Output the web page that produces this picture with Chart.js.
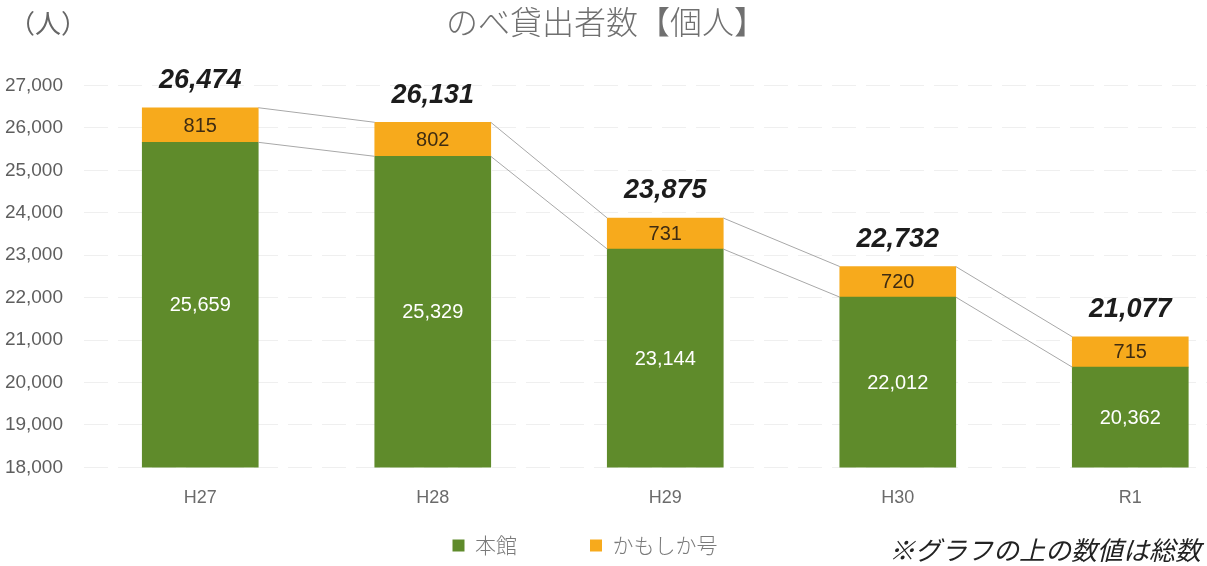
<!DOCTYPE html>
<html lang="ja">
<head>
<meta charset="utf-8">
<title>のべ貸出者数【個人】</title>
<script src="https://cdn.jsdelivr.net/npm/chart.js@4.4.1/dist/chart.umd.min.js"></script>
<style>
  html, body { margin: 0; padding: 0; background: #fff; overflow: hidden; }
  #wrap { width: 1207px; height: 566px; position: relative; }
</style>
</head>
<body>
<div id="wrap"><canvas id="grafico"></canvas></div>
<script>
// 年度
const nendo = ["H27", "H28", "H29", "H30", "R1"];
// 本館
const honkan = [25659, 25329, 23144, 22012, 20362];
// かもしか号
const kamoshika = [815, 802, 731, 720, 715];
// 総数（グラフの上の数値）
const sousu = [26474, 26131, 23875, 22732, 21077];
// 縦軸の目盛り
const yMin = 18000;
const yMax = 27000;
const yStep = 1000;

const fonteNum = '"Liberation Sans", Arial, sans-serif';
const fonteJp = '"Noto Sans CJK JP", "Noto Sans", sans-serif';
const verde = "#5f8b2b";
const laranja = "#f7aa1c";

const fmt = v => Number(v).toLocaleString("en-US");

// ラベルと区分線を描く
const rotulosPlugin = {
    id: "rotulos",
    afterDatasetsDraw(chart) {
        const ctx = chart.ctx;
        const fundo = chart.chartArea.bottom;
        const m0 = chart.getDatasetMeta(0).data;
        const m1 = chart.getDatasetMeta(1).data;

        // 区分線
        ctx.save();
        ctx.strokeStyle = "#a8a8a8";
        ctx.lineWidth = 1;
        [m0, m1].forEach(barras => {
            for (let i = 0; i < barras.length - 1; i++) {
                let a = barras[i], b = barras[i + 1];
                ctx.beginPath();
                ctx.moveTo(a.x + a.width / 2, Math.min(a.y, a.base));
                ctx.lineTo(b.x - b.width / 2, Math.min(b.y, b.base));
                ctx.stroke();
            }
        });

        ctx.textAlign = "center";
        ctx.textBaseline = "middle";
        for (let i = 0; i < m0.length; i++) {
            let g = m0[i], o = m1[i];
            let gTopo = Math.min(g.y, g.base);
            let gBase = Math.min(Math.max(g.y, g.base), fundo);
            ctx.font = "20px " + fonteNum;
            ctx.fillStyle = "#ffffff";
            ctx.fillText(fmt(honkan[i]), g.x, (gTopo + gBase) / 2 + 1);
            ctx.fillStyle = "#3f2c12";
            ctx.fillText(fmt(kamoshika[i]), o.x, (o.y + o.base) / 2 + 1);
            ctx.font = "italic bold 27px " + fonteNum;
            ctx.fillStyle = "#1c1c1c";
            ctx.fillText(fmt(sousu[i]), o.x, Math.min(o.y, o.base) - 27);
        }
        ctx.restore();
    },
    afterDraw(chart) {
        const ctx = chart.ctx;
        ctx.save();
        ctx.textBaseline = "middle";
        ctx.fillStyle = "#666666";
        ctx.font = "26px " + fonteJp;
        ctx.textAlign = "left";
        ctx.fillText("（人）", 9, 23);
        ctx.fillStyle = "#222222";
        ctx.font = "italic 26px " + fonteJp;
        ctx.textAlign = "right";
        ctx.fillText("※グラフの上の数値は総数", 1201, 550);
        ctx.restore();
    }
};

let ctx = document.getElementById("grafico").getContext("2d");
window.myChart = new Chart(ctx, {
    type: "bar",
    data: {
        datasets: [{
            label: "本館",
            data: honkan.map((v, i) => ({ x: i, y: v })),
            backgroundColor: verde,
            borderWidth: 0,
            barThickness: 116
        }, {
            label: "かもしか号",
            data: kamoshika.map((v, i) => ({ x: i, y: [honkan[i], honkan[i] + v] })),
            backgroundColor: laranja,
            borderWidth: 0,
            barThickness: 116
        }]
    },
    options: {
        responsive: true,
        maintainAspectRatio: false,
        animation: false,
        layout: { padding: { left: 5, right: 0, top: 0, bottom: 0 } },
        plugins: {
            title: {
                display: true,
                text: "のべ貸出者数【個人】",
                color: "#707070",
                font: { family: fonteJp, size: 32, weight: "300" },
                padding: { top: 3, bottom: 44 }
            },
            legend: {
                position: "bottom",
                labels: {
                    boxWidth: 12,
                    boxHeight: 12,
                    padding: 10,
                    color: "#7a7a7a",
                    font: { family: fonteJp, size: 21, weight: "300" },
                    generateLabels(chart) {
                        let itens = Chart.defaults.plugins.legend.labels.generateLabels(chart);
                        itens[0].text += "\u3000\u3000\u3000";
                        itens[1].text += "\u3000\u3000";
                        return itens;
                    }
                }
            },
            tooltip: { enabled: false }
        },
        scales: {
            x: {
                type: "linear",
                min: -0.5,
                max: 4.33,
                offset: false,
                stacked: true,
                grid: { display: false, drawTicks: false, offset: false },
                border: { display: false },
                afterBuildTicks: axis => { axis.ticks = nendo.map((n, i) => ({ value: i })); },
                afterFit: axis => {
                    axis.height -= 4;
                    axis.paddingLeft = 0;
                    axis.paddingRight = 0;
                },
                ticks: {
                    autoSkip: false,
                    maxRotation: 0,
                    padding: 20,
                    color: "#6b6b6b",
                    font: { family: fonteNum, size: 18 },
                    callback: v => nendo[v]
                }
            },
            y: {
                min: yMin,
                max: yMax,
                grid: { color: "#efefef", drawTicks: false },
                border: { display: false, dash: [24, 10] },
                afterFit: axis => { axis.width = 79; },
                ticks: {
                    stepSize: yStep,
                    padding: 21,
                    color: "#5e5e5e",
                    font: { family: fonteNum, size: 19 },
                    callback: v => fmt(v)
                }
            }
        }
    },
    plugins: [rotulosPlugin]
});
</script>
</body>
</html>
